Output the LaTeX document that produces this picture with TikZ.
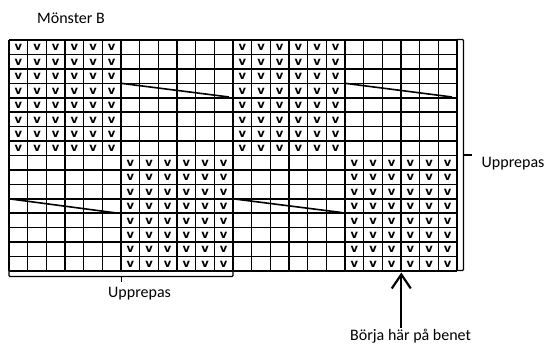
\documentclass[tikz,border=0pt]{standalone}
\usepackage{fontspec}
\setmainfont{Carlito}
\newfontfamily\vfont{DejaVu Sans}
\usetikzlibrary{arrows.meta}
\begin{document}
\begin{tikzpicture}[x=1pt,y=-1pt,
  gridline/.style={line width=1.6pt},
  vmark/.style={font=\vfont\fontsize{11.5}{11.5}\selectfont\bfseries, inner sep=0pt},
  txt/.style={font=\fontsize{16}{16}\selectfont, inner sep=0pt, anchor=base west},
  bracket/.style={line width=1.3pt, rounded corners=1pt},
  diag/.style={line width=1.6pt},
  arrowline/.style={line width=2.2pt, -{Straight Barb[length=14pt,width=19pt,line width=2.2pt]}}]
\useasboundingbox (0,0) rectangle (547,344);
\def\cw{18.6667}
\def\rh{14.4375}
% grid
\foreach \i in {0,...,24} \draw[gridline] ({9+\i*\cw},40) -- ({9+\i*\cw},271);
\foreach \j in {0,...,16} \draw[gridline] (9,{40+\j*\rh}) -- (457,{40+\j*\rh});
% v marks
\foreach \r in {0,...,7} \foreach \b in {0,12} \foreach \k in {0,...,5}
  \node[vmark] (va-\r-\b-\k) at ({9+(\b+\k+0.5)*\cw},{40+(\r+0.5)*\rh+0.5}) {v};
\foreach \r in {8,...,15} \foreach \b in {6,18} \foreach \k in {0,...,5}
  \node[vmark] (vb-\r-\b-\k) at ({9+(\b+\k+0.5)*\cw},{40+(\r+0.5)*\rh+0.5}) {v};
% diagonals
\draw[diag] ({9+6*\cw},83.3) -- ({9+12*\cw-4},97);
\draw[diag] ({9+18*\cw},83.3) -- ({9+24*\cw-5},97);
\draw[diag] (9,198.8) -- ({9+6*\cw-4.5},213);
\draw[diag] ({9+12*\cw},198.8) -- ({9+18*\cw-3.5},212.5);
% texts
\node[txt] (title) at (37,24) {Mönster B};
\node[txt] (rep1) at (108,298) {Upprepas};
\node[txt] (rep2) at (481.5,167.3) {Upprepas};
\node[txt] (start) at (350,340.5) {Börja här på benet};
% brackets
\draw[bracket] (9,271) -- (9,276.5) -- (233,276.5) -- (233,271);
\draw[bracket] (121.7,276.5) -- (121.7,282);
\draw[bracket] (457,39.5) -- (463.5,39.5) -- (463.5,270.5) -- (457,270.5);
\draw[bracket] (463.5,155) -- (471.5,155);
% arrow
\coordinate (tail) at (401.3,328);
\coordinate (tip) at (401.3,272.5);
\draw[arrowline] (tail) -- (tip);
\end{tikzpicture}
\end{document}
